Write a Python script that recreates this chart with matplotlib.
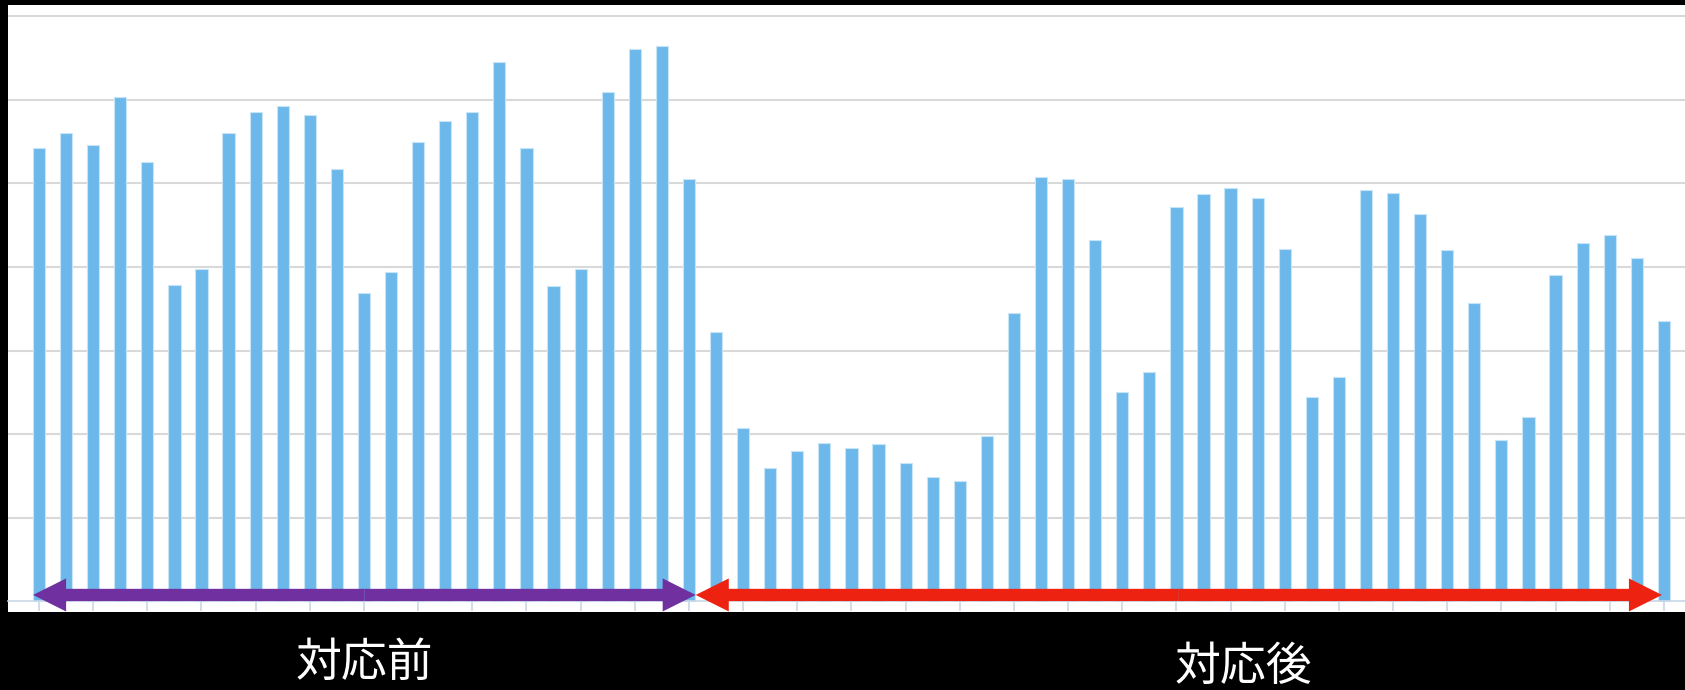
import matplotlib.pyplot as plt
from matplotlib.patches import FancyArrowPatch

plt.rcParams['font.family'] = ['Noto Sans CJK JP', 'DejaVu Sans']

# 棒グラフの値（目盛り1つ分 = 1）
values = [5.42, 5.60, 5.46, 6.03, 5.26, 3.78, 3.98, 5.60, 5.85, 5.93,
          5.82, 5.17, 3.69, 3.94, 5.50, 5.75, 5.85, 6.45, 5.43, 3.77,
          3.98, 6.09, 6.61, 6.65, 5.05, 3.22, 2.07, 1.60, 1.80, 1.89,
          1.84, 1.88, 1.66, 1.49, 1.44, 1.98, 3.45, 5.08, 5.05, 4.32,
          2.50, 2.74, 4.72, 4.88, 4.95, 4.83, 4.22, 2.45, 2.69, 4.92,
          4.89, 4.63, 4.21, 3.57, 1.93, 2.21, 3.91, 4.29, 4.38, 4.11,
          3.36]
x = list(range(len(values)))

# 区間ラベルと矢印の範囲（カテゴリ位置）
labels = ["対応前", "対応後"]
spans = [(-0.22, 24.25), (24.25, 59.93)]
arrow_colors = ["#7030A0", "#EE2211"]
label_x = [12.0, 44.45]

fig = plt.figure(figsize=(16.85, 6.9), dpi=100, facecolor="black")
ax = fig.add_axes([8 / 1685, 78 / 690, 1677 / 1685, 607 / 690])
ax.set_facecolor("white")

ax.bar(x, values, width=0.45, color="#6CB8EA", edgecolor="#C8E4F7",
       linewidth=0.8, zorder=2)

ax.set_xlim(-1.145, 60.78)
ax.set_ylim(-0.126, 7.135)
ax.set_yticks(range(1, 8))
ax.yaxis.grid(True, color="#D9D9D9", linewidth=1.5, zorder=0)
ax.set_axisbelow(True)

for s in ["top", "right", "left"]:
    ax.spines[s].set_visible(False)
ax.spines["bottom"].set_position(("data", 0))
ax.spines["bottom"].set_color("#C9D7E6")
ax.spines["bottom"].set_linewidth(1.2)
ax.set_xticks(x[::2])
ax.set_xticklabels([])
ax.tick_params(axis="x", direction="out", length=7.5, width=1.2, color="#C9D7E6")
ax.tick_params(axis="y", left=False, labelleft=False)

# 両矢印（中央から両端へ2本の矢印で描く）
for (x0, x1), c in zip(spans, arrow_colors):
    mid = (x0 + x1) / 2
    for end in (x0, x1):
        arr = FancyArrowPatch((mid, 0.078), (end, 0.078),
                              arrowstyle="simple,head_length=23.8,head_width=23.8,tail_width=8.8",
                              mutation_scale=1, color=c, lw=0,
                              shrinkA=0, shrinkB=0, zorder=3)
        ax.add_patch(arr)

# 区間ラベル（x位置はカテゴリ位置から図の座標へ換算）
for lx, lab, ly in zip(label_x, labels, [27.5 / 690, 23 / 690]):
    fig.text((39 + lx * 27.1) / 1685, ly, lab, color="white", fontsize=33,
             ha="center", va="center")

fig.savefig("out.png", dpi=100, facecolor="black")
